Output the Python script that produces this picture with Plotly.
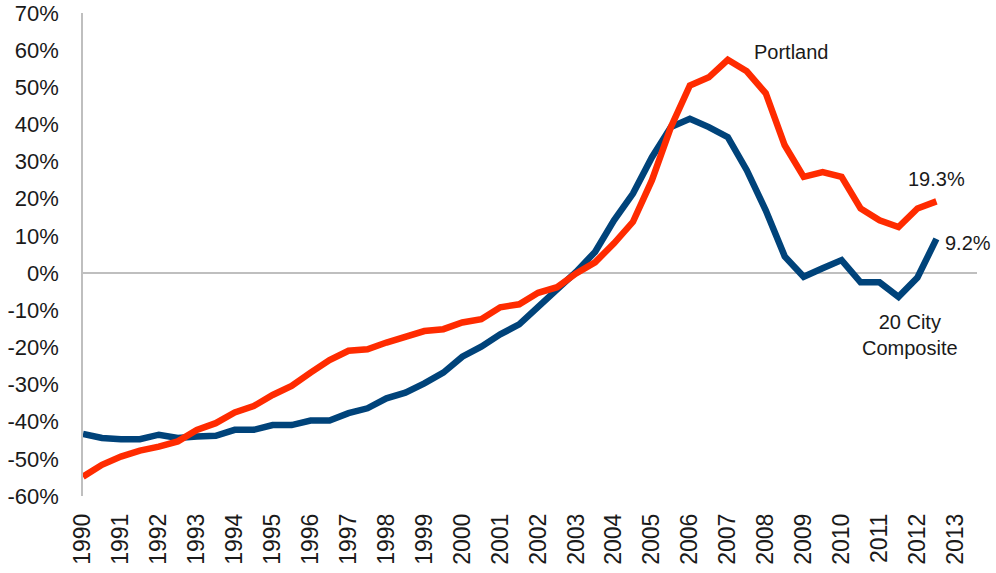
import plotly.graph_objects as go

periods = [1990.0, 1990.5, 1991.0, 1991.5, 1992.0, 1992.5, 1993.0, 1993.5,
           1994.0, 1994.5, 1995.0, 1995.5, 1996.0, 1996.5, 1997.0, 1997.5,
           1998.0, 1998.5, 1999.0, 1999.5, 2000.0, 2000.5, 2001.0, 2001.5,
           2002.0, 2002.5, 2003.0, 2003.5, 2004.0, 2004.5, 2005.0, 2005.5,
           2006.0, 2006.5, 2007.0, 2007.5, 2008.0, 2008.5, 2009.0, 2009.5,
           2010.0, 2010.5, 2011.0, 2011.5, 2012.0, 2012.5]

portland = [-54.8, -51.6, -49.4, -47.8, -46.7, -45.3, -42.2, -40.4,
            -37.5, -35.8, -32.8, -30.4, -26.8, -23.4, -20.9, -20.5,
            -18.7, -17.1, -15.6, -15.1, -13.3, -12.4, -9.2, -8.4,
            -5.3, -3.8, -0.1, 2.9, 8.0, 13.8, 25.0, 39.3,
            50.5, 52.7, 57.4, 54.3, 48.4, 34.4, 25.9, 27.2,
            25.9, 17.4, 14.2, 12.4, 17.4, 19.3]

composite = [-43.3, -44.4, -44.7, -44.7, -43.5, -44.4, -44.0, -43.8,
             -42.2, -42.2, -40.9, -40.9, -39.7, -39.7, -37.7, -36.4,
             -33.7, -32.2, -29.7, -26.8, -22.5, -19.8, -16.5, -13.8,
             -9.1, -4.4, 0.3, 5.7, 14.2, 21.4, 31.2, 39.3,
             41.5, 39.3, 36.6, 27.7, 16.9, 4.5, -1.0, 1.3,
             3.5, -2.5, -2.5, -6.4, -1.2, 9.2]

year_ticks = list(range(1990, 2014))
year_labels = [str(y) for y in year_ticks]
y_ticks = list(range(-60, 71, 10))
y_labels = [f"{v}%" for v in y_ticks]

RED = "#FF2B00"
BLUE = "#00437A"
FONT = "Liberation Sans, Arial, sans-serif"

fig = go.Figure()
fig.add_trace(go.Scatter(x=periods, y=composite, mode="lines", name="20 City Composite",
                         line=dict(color=BLUE, width=6.5)))
fig.add_trace(go.Scatter(x=periods, y=portland, mode="lines", name="Portland",
                         line=dict(color=RED, width=6.5)))

ann_font = dict(family=FONT, size=20, color="#1a1a1a")
fig.add_annotation(x=2008.67, y=59.5, text="Portland", showarrow=False, font=ann_font)
fig.add_annotation(x=2012.51, y=25.3, text="19.3%", showarrow=False, font=ann_font)
fig.add_annotation(x=2012.74, y=8.2, text="9.2%", showarrow=False, font=ann_font,
                   xanchor="left", xshift=-3)
fig.add_annotation(x=2011.8, y=-16.7, text="20 City<br>Composite", showarrow=False, font=ann_font)

fig.update_layout(
    width=996, height=573,
    margin=dict(l=83, r=19, t=13, b=77),
    plot_bgcolor="white", paper_bgcolor="white",
    showlegend=False,
    font=dict(family=FONT, color="#1a1a1a"),
    xaxis=dict(range=[1990, 2013.57], tickmode="array", tickvals=year_ticks,
               ticktext=year_labels, tickangle=-90, showgrid=False,
               zeroline=False, showline=False, ticks="", automargin=False,
               ticklabelstandoff=12,
               tickfont=dict(family=FONT, size=23, color="#1a1a1a")),
    yaxis=dict(range=[-60, 70], tickmode="array", tickvals=y_ticks, ticktext=y_labels,
               showgrid=False, zeroline=True, zerolinecolor="#BFBFBF", zerolinewidth=1.5,
               showline=True, linecolor="#BFBFBF", linewidth=1.5, ticks="",
               ticklabelstandoff=18, automargin=False, ticklabeloverflow="allow",
               tickfont=dict(family=FONT, size=22, color="#1a1a1a")),
)

# remove the default 8px page margin so the figure fills the window exactly
fig.write_html("out.html", config={"displayModeBar": False},
               post_script="document.body.style.margin='0px';")
